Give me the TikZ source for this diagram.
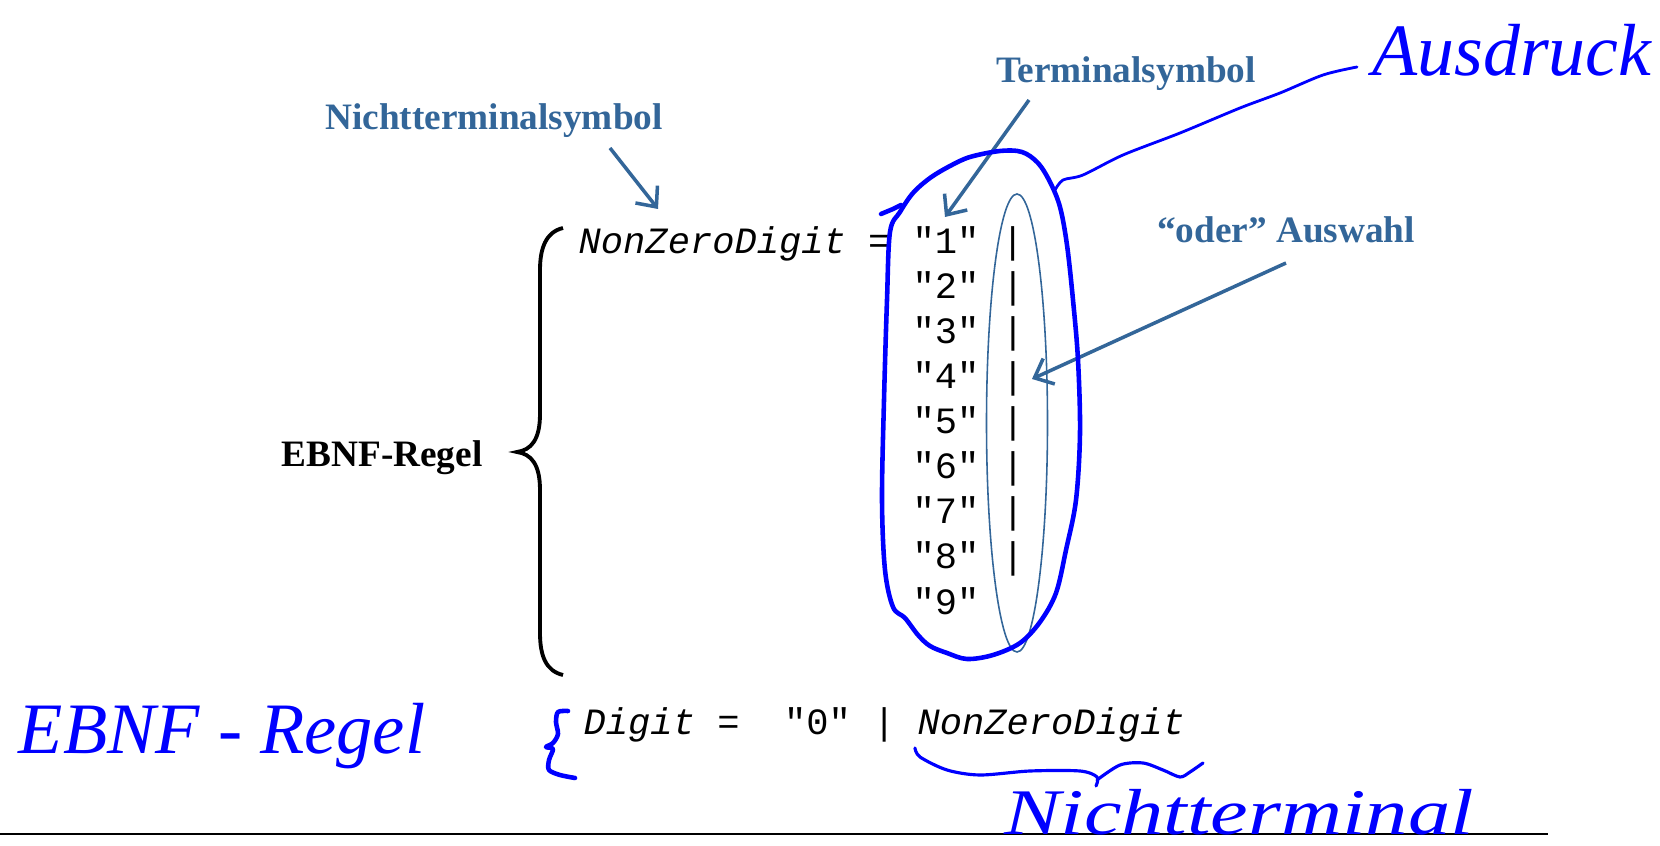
\documentclass[tikz,border=0pt]{standalone}
\usepackage{fontspec}
\usepackage{graphicx}
\setmainfont{Liberation Serif}
\newfontfamily\monof{Liberation Mono}
\newfontfamily\handf{Liberation Serif}
\usetikzlibrary{arrows.meta}
\definecolor{slateblue}{RGB}{51,102,153}
\definecolor{inkblue}{RGB}{0,0,255}
\begin{document}
\begin{tikzpicture}[x=0.01cm,y=-0.01cm,
  bluelbl/.style={font=\fontsize{10.6}{12}\selectfont\bfseries, text=slateblue, inner sep=0, anchor=base},
  blacklbl/.style={font=\fontsize{10.6}{12}\selectfont\bfseries, text=black, inner sep=0, anchor=base},
  codetxt/.style={font=\fontsize{10.55}{12}\selectfont\monof, inner sep=0, anchor=base west},
  pointer/.style={draw=slateblue, line width=1pt, -{Straight Barb[length=1.6mm,width=2.8mm,line width=1pt]}},
  ink/.style={draw=inkblue, line width=1.3pt, line cap=round, line join=round},
  thinink/.style={draw=inkblue, line width=0.8pt, line cap=round, line join=round},
  handtxt/.style={text=inkblue, inner sep=0, anchor=base}]
\useasboundingbox (0,0) rectangle (1660,846);
\fill[white] (0,0) rectangle (1660,846);

% bottom rule
\coordinate (ruleL) at (0,834);
\coordinate (ruleR) at (1548,834);
\draw[line width=0.85pt] (ruleL) -- (ruleR);

% labels
\node[bluelbl] (ntlabel) at (494,130) {Nichtterminalsymbol};
\node[bluelbl] (tlabel) at (1126,83) {Terminalsymbol};
\node[bluelbl] (orlabel) at (1286,243) {“oder” Auswahl};
\node[blacklbl] (rule) at (382,467) {EBNF-Regel};

% big brace
\draw[line width=1.1pt] (563,228) .. controls (546,232) and (540,248) .. (540,270)
  -- (540,414) .. controls (540,440) and (531,450) .. (517,452)
  .. controls (531,454) and (540,464) .. (540,490)
  -- (540,633) .. controls (540,656) and (546,671) .. (563,675);

% code lines
\node[codetxt] (r1) at (578,254) {{\itshape NonZeroDigit} = "1" |};
\node[codetxt] (r2) at (912,299) {"2" |};
\node[codetxt] (r3) at (912,344) {"3" |};
\node[codetxt] (r4) at (912,389) {"4" |};
\node[codetxt] (r5) at (912,434) {"5" |};
\node[codetxt] (r6) at (912,479) {"6" |};
\node[codetxt] (r7) at (912,524) {"7" |};
\node[codetxt] (r8) at (912,569) {"8" |};
\node[codetxt] (r9) at (912,614) {"9"};
\node[codetxt] (dline) at (583,735) {{\itshape Digit} =\ \ "0" | {\itshape NonZeroDigit}};

% thin ellipse around the bars
\draw[slateblue, line width=0.45pt] (1017,423) ellipse [x radius=30.5, y radius=229];

% arrows
\coordinate (ntTail) at (610,148);
\coordinate (ntHead) at (658,209);
\draw[pointer] (ntTail) -- (ntHead);
\coordinate (tTail) at (1029,100);
\coordinate (tHead) at (945,217);
\draw[pointer] (tTail) -- (tHead);
\coordinate (orTail) at (1286,263);
\coordinate (orHead) at (1032,379);
\draw[pointer] (orTail) -- (orHead);

% hand-drawn outline (Ausdruck)
\draw[ink] plot[smooth cycle, tension=0.55] coordinates {
  (890,232) (900,212) (913,193) (930,178) (950,166) (970,157) (1000,151)
  (1022,152) (1038,163) (1050,182) (1060,207) (1067,245) (1073,300)
  (1078,360) (1080,433) (1076,500) (1066,550) (1056,593) (1040,622)
  (1020,643) (993,655) (967,659) (947,653) (930,646) (918,635) (905,618)
  (893,607) (885,570) (882,500) (884,400) (887,300)};
\draw[ink] (881,214) -- (893,209) -- (901,205);
\draw[thinink] plot[smooth, tension=0.5] coordinates {
  (1055,190) (1063,180) (1083,175) (1123,155) (1180,133) (1240,108)
  (1280,93) (1323,75) (1357,67)};
\node[handtxt, font=\handf\itshape\fontsize{21}{24}\selectfont] (ausdruck) at (1512,76) {Ausdruck};

% hand-drawn small brace and underline
\draw[ink] plot[smooth, tension=0.5] coordinates {
  (568,711) (558,712) (556,722) (558,734) (553,743) (546,747) (553,749)
  (549,760) (549,770) (560,775) (575,778)};
\draw[thinink, line width=0.9pt] plot[smooth, tension=0.5] coordinates {
  (915,748) (920,757) (947,770) (980,775) (1030,771) (1080,771) (1097,777) (1096,786)};
\draw[thinink, line width=0.9pt] plot[smooth, tension=0.5] coordinates {
  (1097,780) (1120,765) (1143,763) (1163,770) (1180,777) (1190,772) (1203,763)};
\node[handtxt, font=\handf\itshape\fontsize{20.6}{22}\selectfont] (ebnfhand) at (222,754) {EBNF - Regel};
\node[handtxt, font=\handf\itshape\fontsize{18.5}{20}\selectfont] (nthand) at (1239,834) {\scalebox{1.3}[1]{Nichtterminal}};
\end{tikzpicture}
\end{document}
